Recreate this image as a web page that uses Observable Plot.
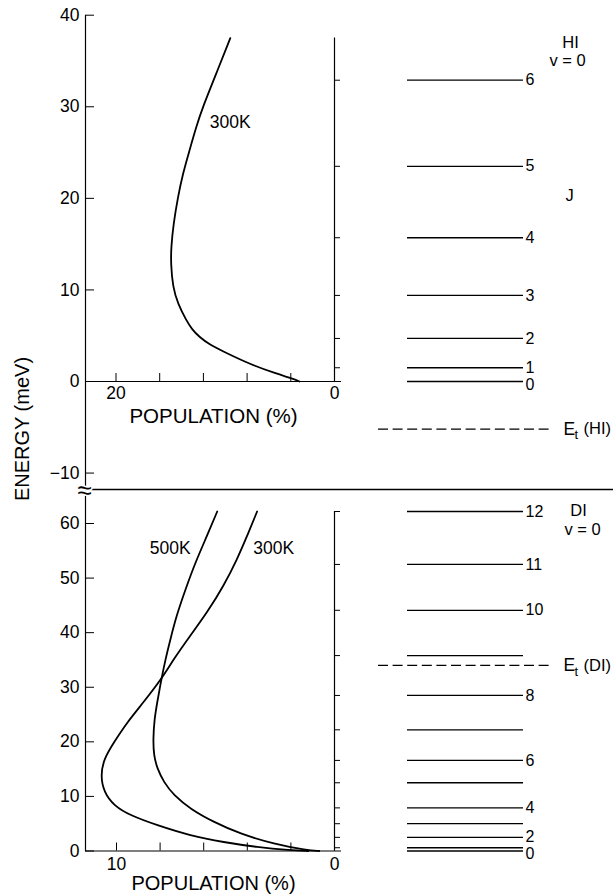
<!DOCTYPE html>
<html><head><meta charset="utf-8">
<script src="https://cdn.jsdelivr.net/npm/d3@7"></script>
<script src="https://cdn.jsdelivr.net/npm/@observablehq/plot@0.6"></script>
<style>
body{margin:0;background:#fff;}
#wrap{position:relative;width:613px;height:894px;font-family:"Liberation Sans",Arial,sans-serif;color:#000;}
#wrap svg{position:absolute;left:0;}
#ylabel{position:absolute;left:22px;top:429px;transform:translate(-50%,-50%) rotate(-90deg);font-size:20px;white-space:nowrap;}
</style></head><body><div id="wrap"><div id="ylabel">ENERGY (meV)</div></div>
<script>
// ---------- data ----------
// HI panel (upper)
const hiYTicks = [40, 30, 20, 10, 0, -10];
const hiYTickLabels = ["40", "30", "20", "10", "0", "\u221210"];
const hiXTicks = [20, 16, 12, 8, 4, 0];
const hiXTickLabels = [{v: 20, t: "20"}, {v: 0, t: "0"}];
const hiLevelE = [0, 1.5, 4.7, 9.4, 15.7, 23.5, 32.9];
const hiLevelJ = ["0", "1", "2", "3", "4", "5", "6"];
const hiEt = -5.2;
const hiRightAxisTop = 37.5;
const hi300Pop = [9.54, 10.83, 12.05, 12.66, 13.28, 13.88, 14.34, 14.74, 14.95, 14.98, 14.80, 14.34, 13.58, 13.05, 12.36, 11.45, 10.3, 7.77, 5.32, 3.79, 3.2];
const hi300E   = [37.5, 33.6, 30.0, 27.8, 25.2, 22.7, 20.1, 17.2, 14.7, 12.9, 10.3, 8.5, 6.7, 5.7, 4.85, 4.05, 3.35, 1.9, 0.85, 0.3, 0];
const hiCurveLabels = [{pop: 11.41, E: 28.3, t: "300K"}];
const hiHeader = [{E: 37.0, t: "HI", x: 570}, {E: 35.0, t: "v = 0", x: 567}, {E: 20.3, t: "J", x: 569}];

// DI panel (lower)
const diYTicks = [60, 50, 40, 30, 20, 10, 0];
const diXTicks = [10, 8, 6, 4, 2, 0];
const diXTickLabels = [{v: 10, t: "10"}, {v: 0, t: "0"}];
const diLevelE = [0, 0.6, 2.5, 5.0, 7.9, 12.5, 16.6, 22.2, 28.5, 35.8, 44.1, 52.5, 62.2];
const diLevelJ = ["0", "", "2", "", "4", "", "6", "", "8", "", "10", "11", "12"];
const diEt = 34.0;
const diRightAxisTop = 62.2;
const di300Pop = [3.55, 4.0, 4.46, 5.08, 5.84, 6.61, 7.37, 7.94, 8.75, 9.51, 10.12, 10.58, 10.73, 10.58, 10.12, 9.36, 8.13, 6.61, 5.08, 3.55, 2.02, 1.2];
const di300E   = [62.2, 57.8, 53.5, 48.6, 43.7, 39.5, 35.2, 31.5, 27.3, 23.6, 19.9, 16.9, 13.8, 10.8, 8.3, 6.5, 4.7, 2.8, 1.6, 0.7, 0.15, 0];
const di500Pop = [5.38, 5.84, 6.38, 6.83, 7.25, 7.52, 7.75, 7.94, 8.13, 8.26, 8.32, 8.29, 8.13, 7.83, 7.37, 6.61, 5.54, 4.31, 2.78, 1.25, 0.7];
const di500E   = [62.2, 57.8, 52.9, 48.0, 43.1, 38.9, 35.2, 31.5, 27.3, 24.2, 20.5, 17.5, 15.1, 12.6, 10.2, 7.7, 5.3, 3.1, 1.3, 0.1, 0];
const diCurveLabels = [{pop: 8.47, E: 55.4, t: "500K"}, {pop: 3.73, E: 55.4, t: "300K"}];
const diHeader = [{E: 62.3, t: "DI", x: 578}, {E: 58.9, t: "v = 0", x: 582}];

// ---------- helpers ----------
const W = 613;
const FS = 17.5;
const LFS = 16;
const zipCurve = (p, e) => p.map((v, i) => ({pop: v, E: e[i]}));
const levelsOf = (E, J) => E.map((e, i) => ({E: e, J: J[i]}));
const baseStyle = {background: "transparent", overflow: "visible", fontFamily: "'Liberation Sans', Arial, sans-serif", fontSize: FS + "px", color: "#000"};

function headerMarks(items) {
  return items.map(d => Plot.text([d], {y: "E", text: "t", frameAnchor: "right", dx: d.x - W, textAnchor: "middle", fontSize: 16.5}));
}

function levelMarks(levels, et, etName, axisTop) {
  const ground = levels.slice(0, 1);
  const upper = levels.slice(1);
  return [
    // right-hand axis at 0 %
    Plot.ruleX([0], {y1: 0, y2: axisTop, stroke: "#000", strokeWidth: 1.2}),
    Plot.ruleY(upper, {y: "E", x1: 0, x2: 0, insetRight: -6, stroke: "#000", strokeWidth: 1}),
    // level lines
    Plot.ruleY(upper, {y: "E", insetLeft: 407 - 85, insetRight: W - 523, stroke: "#000", strokeWidth: 1.3}),
    Plot.ruleY(ground, {y: "E", insetLeft: 407 - 85, insetRight: W - 523, stroke: "#000", strokeWidth: 1.6}),
    Plot.text(upper.filter(d => d.J !== ""), {y: "E", text: "J", frameAnchor: "right", dx: 525 - W, textAnchor: "start", fontSize: LFS}),
    Plot.text(ground, {y: "E", text: "J", frameAnchor: "right", dx: 525 - W, dy: 3, textAnchor: "start", fontSize: LFS}),
    // dissociation threshold
    Plot.ruleY([et], {insetLeft: 378 - 85, insetRight: W - 552, stroke: "#000", strokeWidth: 1.3, strokeDasharray: "10,4.6"}),
    Plot.text([et], {y: d => d, text: () => "E", frameAnchor: "right", dx: 563 - W, textAnchor: "start", fontSize: FS}),
    Plot.text([et], {y: d => d, text: () => "t", frameAnchor: "right", dx: 574 - W, dy: 6, textAnchor: "start", fontSize: 13}),
    Plot.text([et], {y: d => d, text: () => "(" + etName + ")", frameAnchor: "right", dx: 583 - W, textAnchor: "start", fontSize: 16.5})
  ];
}

// ---------- upper panel (HI) ----------
const hiLevels = levelsOf(hiLevelE, hiLevelJ);
const topPlot = Plot.plot({
  width: W, height: 490,
  marginLeft: 85, marginRight: 0, marginTop: 15, marginBottom: 1,
  x: {domain: [20, 0], range: [115.5, 334], axis: null},
  y: {domain: [0, 40], range: [381, 14.7], axis: null},
  style: baseStyle,
  marks: [
    Plot.frame({anchor: "left", stroke: "#000", strokeWidth: 1.2}),
    Plot.frame({anchor: "bottom", stroke: "#000", strokeWidth: 1.3}),
    Plot.ruleY(hiYTicks, {y: d => d, insetRight: W - 85 - 9, stroke: "#000"}),
    Plot.text(hiYTicks, {y: d => d, text: (d, i) => hiYTickLabels[i], frameAnchor: "left", textAnchor: "end", dx: -6, fontSize: FS}),
    Plot.ruleY([0], {insetRight: W - 341, stroke: "#000", strokeWidth: 1.2}),
    Plot.ruleX(hiXTicks, {x: d => d, y1: 0, y2: 0, insetTop: -8, stroke: "#000"}),
    Plot.text(hiXTickLabels, {x: "v", y: 0, text: "t", dy: 12, lineAnchor: "middle", fontSize: FS}),
    Plot.text(["POPULATION (%)"], {y: 0, frameAnchor: "left", dx: 128, dy: 35, text: d => d, textAnchor: "middle", fontSize: 20.5}),
    ...levelMarks(hiLevels, hiEt, "HI", hiRightAxisTop),
    Plot.line(zipCurve(hi300Pop, hi300E), {x: "pop", y: "E", curve: "basis", stroke: "#000", strokeWidth: 1.8}),
    Plot.text(hiCurveLabels, {x: "pop", y: "E", text: "t", textAnchor: "start", fontSize: FS}),
    ...headerMarks(hiHeader)
  ]
});

// ---------- lower panel (DI) ----------
const diLevels = levelsOf(diLevelE, diLevelJ);
const botPlot = Plot.plot({
  width: W, height: 404,
  marginLeft: 85, marginRight: 0, marginTop: 0, marginBottom: 44,
  x: {domain: [10, 0], range: [116, 334], axis: null},
  y: {domain: [0, 60], range: [360.5, 33], axis: null},
  style: baseStyle,
  marks: [
    Plot.frame({anchor: "left", stroke: "#000", strokeWidth: 1.2}),
    Plot.ruleY(diYTicks, {y: d => d, insetRight: W - 85 - 9, stroke: "#000"}),
    Plot.text(diYTicks, {y: d => d, text: d => String(d), frameAnchor: "left", textAnchor: "end", dx: -6, fontSize: FS}),
    Plot.ruleY([0], {insetRight: W - 341, stroke: "#000", strokeWidth: 1.2}),
    Plot.ruleX(diXTicks, {x: d => d, y1: 0, y2: 0, insetTop: -8, stroke: "#000"}),
    Plot.text(diXTickLabels, {x: "v", y: 0, text: "t", dy: 13.5, lineAnchor: "middle", fontSize: FS}),
    Plot.text(["POPULATION (%)"], {y: 0, frameAnchor: "left", dx: 128, dy: 33, text: d => d, textAnchor: "middle", fontSize: 20}),
    ...levelMarks(diLevels, diEt, "DI", diRightAxisTop),
    Plot.line(zipCurve(di300Pop, di300E), {x: "pop", y: "E", curve: "basis", stroke: "#000", strokeWidth: 1.8}),
    Plot.line(zipCurve(di500Pop, di500E), {x: "pop", y: "E", curve: "basis", stroke: "#000", strokeWidth: 1.8}),
    Plot.text(diCurveLabels, {x: "pop", y: "E", text: "t", textAnchor: "start", fontSize: FS}),
    ...headerMarks(diHeader),
    Plot.text(["\u2248"], {text: d => d, frameAnchor: "top-left", textAnchor: "middle", lineAnchor: "middle", dx: -1, dy: 0, fontSize: 26, stroke: "#fff", strokeWidth: 3, paintOrder: "stroke", fill: "#000"})
  ]
});

const wrap = document.getElementById("wrap");
topPlot.style.top = "0px";
botPlot.style.top = "490px";
wrap.appendChild(topPlot);
wrap.appendChild(botPlot);
</script>
</body></html>
